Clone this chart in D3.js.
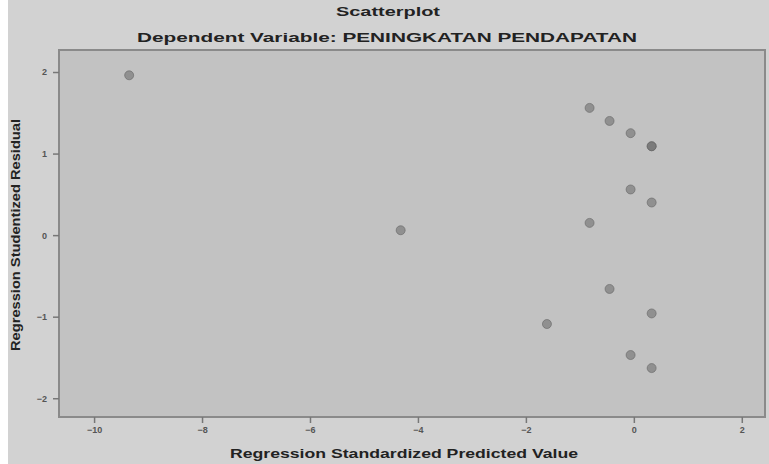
<!DOCTYPE html>
<html>
<head>
    <meta charset="utf-8">
    <script src="https://cdnjs.cloudflare.com/ajax/libs/d3/7.8.5/d3.min.js"></script>
    <style>
        body { margin: 0; background: #ffffff; }
        svg { display: block; font-family: "Liberation Sans", Arial, sans-serif; }
    </style>
</head>
<body>
    <div id="chart"></div>
    <script>
        const width = 769;
        const height = 464;

        // data
        const predicted = [-9.35, -0.82, -0.45, -0.06, 0.33, 0.33, -0.06, 0.33, -0.82, -4.32, -0.45, 0.33, -1.61, -0.06, 0.33];
        const residual  = [1.96, 1.56, 1.40, 1.25, 1.09, 1.09, 0.56, 0.40, 0.15, 0.06, -0.66, -0.96, -1.09, -1.47, -1.63];
        const xTicks = [-10, -8, -6, -4, -2, 0, 2];
        const yTicks = [2, 1, 0, -1, -2];

        const plot = { left: 59, right: 765, top: 50, bottom: 417 };

        const svg = d3.select("#chart")
            .append("svg")
            .attr("width", width)
            .attr("height", height);

        // outer background
        svg.append("rect")
            .attr("x", 8).attr("y", 0)
            .attr("width", width - 8).attr("height", height)
            .attr("fill", "#d2d2d2");

        const x = d3.scaleLinear().domain([-10.65, 2.43]).range([plot.left, plot.right]);
        const y = d3.scaleLinear().domain([2.27, -2.23]).range([plot.top, plot.bottom]);

        // plot area
        svg.append("rect")
            .attr("x", plot.left).attr("y", plot.top)
            .attr("width", plot.right - plot.left)
            .attr("height", plot.bottom - plot.top)
            .attr("fill", "#c2c2c2")
            .attr("stroke", "#8a8a8a")
            .attr("stroke-width", 2);

        // axes
        const fmt = d3.format("d");
        const xAxis = svg.append("g")
            .attr("transform", `translate(0,${plot.bottom})`)
            .call(d3.axisBottom(x).tickValues(xTicks).tickFormat(fmt).tickSize(6).tickPadding(4));
        const yAxis = svg.append("g")
            .attr("transform", `translate(${plot.left},0)`)
            .call(d3.axisLeft(y).tickValues(yTicks).tickFormat(fmt).tickSize(6).tickPadding(6));

        [xAxis, yAxis].forEach(g => {
            g.select(".domain").remove();
            g.selectAll(".tick line").attr("stroke", "#777").attr("stroke-width", 1.5);
            g.selectAll(".tick text")
                .attr("fill", "#555")
                .attr("font-size", "9px")
                .attr("font-weight", "bold");
        });

        // points
        const defs = svg.append("defs");
        defs.append("filter").attr("id", "soft")
            .append("feGaussianBlur").attr("stdDeviation", 0.7);

        svg.append("g")
            .attr("filter", "url(#soft)")
            .selectAll("circle")
            .data(predicted.map((p, i) => ({ p, r: residual[i] })))
            .join("circle")
            .attr("cx", d => x(d.p))
            .attr("cy", d => y(d.r))
            .attr("r", 4.5)
            .attr("fill", "#6e6e6e")
            .attr("fill-opacity", 0.6)
            .attr("stroke", "#666")
            .attr("stroke-opacity", 0.6)
            .attr("stroke-width", 1);

        // titles
        svg.append("text")
            .attr("x", 388).attr("y", 16)
            .attr("text-anchor", "middle")
            .attr("font-size", "12px").attr("font-weight", "bold")
            .attr("fill", "#222")
            .attr("textLength", 104).attr("lengthAdjust", "spacingAndGlyphs")
            .text("Scatterplot");

        svg.append("text")
            .attr("x", 387).attr("y", 42)
            .attr("text-anchor", "middle")
            .attr("font-size", "13px").attr("font-weight", "bold")
            .attr("fill", "#222")
            .attr("textLength", 500).attr("lengthAdjust", "spacingAndGlyphs")
            .text("Dependent Variable: PENINGKATAN PENDAPATAN");

        svg.append("text")
            .attr("x", 404).attr("y", 458)
            .attr("text-anchor", "middle")
            .attr("font-size", "12px").attr("font-weight", "bold")
            .attr("fill", "#222")
            .attr("textLength", 348).attr("lengthAdjust", "spacingAndGlyphs")
            .text("Regression Standardized Predicted Value");

        svg.append("text")
            .attr("transform", "translate(20,235) rotate(-90)")
            .attr("text-anchor", "middle")
            .attr("font-size", "12px").attr("font-weight", "bold")
            .attr("fill", "#222")
            .attr("textLength", 232).attr("lengthAdjust", "spacingAndGlyphs")
            .text("Regression Studentized Residual");
    </script>
</body>
</html>
